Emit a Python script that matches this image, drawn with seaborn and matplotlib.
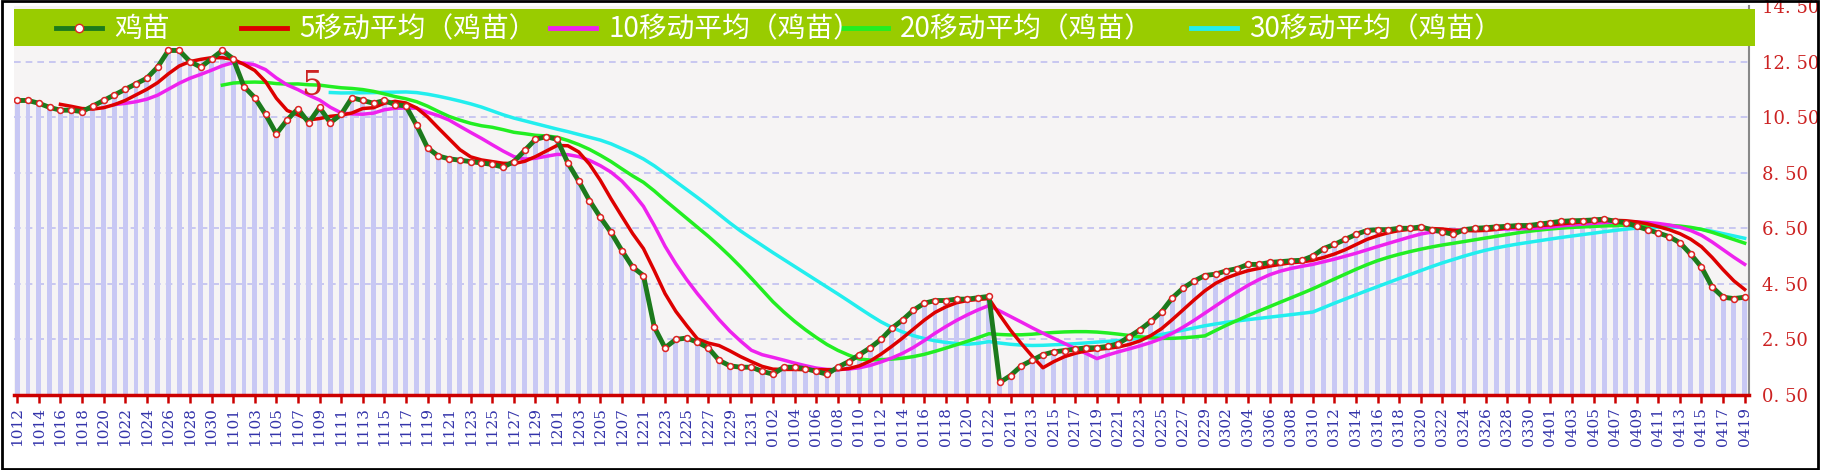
import matplotlib
matplotlib.use("Agg")
import matplotlib.pyplot as plt
import numpy as np
import pandas as pd
import seaborn as sns

# dates (MMDD) and price of 鸡苗
dates = (
    [f"10{d:02d}" for d in range(12, 32)]
    + [f"11{d:02d}" for d in range(1, 31)]
    + [f"12{d:02d}" for d in range(1, 8)]
    + [f"12{d:02d}" for d in range(20, 32)]
    + [f"01{d:02d}" for d in range(1, 23)]
    + [f"02{d:02d}" for d in range(10, 30)]
    + [f"03{d:02d}" for d in range(1, 32)]
    + [f"04{d:02d}" for d in range(1, 20)]
)
price = [
    # Oct 12-31
    11.1, 11.1, 11.0, 10.85, 10.75, 10.75, 10.7, 10.9, 11.1, 11.3,
    11.5, 11.7, 11.9, 12.3, 12.9, 12.9, 12.5, 12.3, 12.6, 12.9,
    # Nov
    12.6, 11.6, 11.2, 10.6, 9.9, 10.4, 10.8, 10.3, 10.85, 10.3,
    10.6, 11.2, 11.1, 11.0, 11.1, 10.95, 10.9, 10.2, 9.4, 9.1,
    9.0, 8.95, 8.9, 8.85, 8.8, 8.7, 8.9, 9.3, 9.7, 9.8,
    # Dec 1-7
    9.7, 8.85, 8.2, 7.5, 6.9, 6.35, 5.7,
    # Dec 20-31
    5.1, 4.8, 2.95, 2.2, 2.5, 2.55, 2.4, 2.2, 1.75, 1.55, 1.5, 1.5,
    # Jan 1-22
    1.35, 1.25, 1.5, 1.5, 1.45, 1.35, 1.25, 1.5, 1.7, 1.95, 2.2,
    2.5, 2.9, 3.2, 3.55, 3.8, 3.9, 3.9, 3.95, 3.95, 4.0, 4.05,
    # Feb 10-29
    0.95, 1.2, 1.55, 1.75, 1.95, 2.05, 2.1, 2.15, 2.2, 2.2,
    2.25, 2.35, 2.6, 2.85, 3.15, 3.5, 4.0, 4.35, 4.6, 4.8,
    # Mar
    4.85, 4.97, 5.05, 5.2, 5.2, 5.27, 5.3, 5.33, 5.35, 5.5,
    5.77, 5.92, 6.1, 6.28, 6.42, 6.45, 6.45, 6.5, 6.5, 6.55,
    6.45, 6.37, 6.28, 6.45, 6.5, 6.52, 6.55, 6.57, 6.6, 6.6, 6.65,
    # Apr 1-19
    6.7, 6.75, 6.77, 6.78, 6.8, 6.83, 6.75, 6.7, 6.57, 6.45,
    6.33, 6.2, 5.98, 5.57, 5.1, 4.38, 4.02, 3.97, 4.02,
]
windows = [5, 10, 20, 30]
ma_colors = ["#dd0000", "#ee22ee", "#22ee22", "#22eeee"]
yticks = [0.5, 2.5, 4.5, 6.5, 8.5, 10.5, 12.5, 14.5]

df = pd.DataFrame({"date": dates, "price": price})
df["i"] = np.arange(len(df))
for w in windows:
    df[f"ma{w}"] = df["price"].rolling(w).mean()

W, H = 1822, 470
fig = plt.figure(figsize=(W / 100, H / 100), dpi=100)
fig.patch.set_facecolor("white")
ax = fig.add_axes([14 / W, 75 / H, 1735 / W, 389 / H])
ax.set_facecolor("#f6f4f4")

ax.bar(df["i"], df["price"], width=0.45, color="#c8c8f4", zorder=1)
for y in yticks[1:-1]:
    ax.axhline(y, color="#c0c0f0", lw=1.2, ls=(0, (4, 3)), zorder=0.5)

for w, c in zip(windows[::-1], ma_colors[::-1]):
    sns.lineplot(data=df, x="i", y=f"ma{w}", color=c, lw=2.5, ax=ax, zorder=3)
sns.lineplot(data=df, x="i", y="price", color="#1c7a1c", lw=3.5, ax=ax, zorder=4)
ax.scatter(df["i"], df["price"], s=18, facecolor="white", edgecolor="#dd2222", lw=1.1, zorder=5)

ax.text(26.3, 11.3, "5", color="#cc2222", fontsize=24, family="DejaVu Serif", zorder=6)

ax.set_xlim(-0.3, len(df) - 0.6)
ax.set_ylim(0.5, 14.5)
ax.set_xticks(df["i"][::2])
ax.set_xticklabels(df["date"][::2], rotation=90, fontsize=11, family="DejaVu Serif")
ax.tick_params(axis="x", colors="#cc0000", length=6, width=1.8, pad=3, labelcolor="#3333aa")
ax.yaxis.tick_right()
ax.set_yticks(yticks)
ax.set_yticklabels([f"{v:.2f}".replace(".", ". ") for v in yticks], color="#cc2222",
                   fontsize=13, family="DejaVu Serif")
ax.tick_params(axis="y", length=0, pad=9)
ax.set_xlabel("")
ax.set_ylabel("")
for s in ["top", "left"]:
    ax.spines[s].set_visible(False)
ax.spines["bottom"].set_color("#cc0000")
ax.spines["bottom"].set_linewidth(2.5)
ax.spines["right"].set_color("#888888")
ax.spines["right"].set_linewidth(1.5)

# legend band
lax = fig.add_axes([14 / W, 424 / H, 1741 / W, 37 / H])
lax.set_facecolor("#99cc00")
lax.set_xticks([])
lax.set_yticks([])
for s in lax.spines.values():
    s.set_visible(False)
lax.set_xlim(0, 1741)
lax.set_ylim(0, 1)
items = [("鸡苗", "#1c7a1c", 100), ("5移动平均（鸡苗）", "#dd0000", 285),
         ("10移动平均（鸡苗）", "#ee22ee", 594), ("20移动平均（鸡苗）", "#22ee22", 886),
         ("30移动平均（鸡苗）", "#22eeee", 1235)]
for label, c, x0 in items:
    lax.plot([x0 - 58, x0 - 12], [0.5, 0.5], color=c, lw=3.5)
    if label == "鸡苗":
        lax.plot([x0 - 35], [0.5], "o", ms=6, mfc="white", mec="#dd2222")
    lax.text(x0, 0.45, label, color="white", fontsize=20, va="center", family="Noto Sans CJK SC")

fig.add_artist(plt.Rectangle((0.001, 0.002), 0.997, 0.995, transform=fig.transFigure,
                             fill=False, edgecolor="black", lw=2))
fig.savefig("out.png", dpi=100)
